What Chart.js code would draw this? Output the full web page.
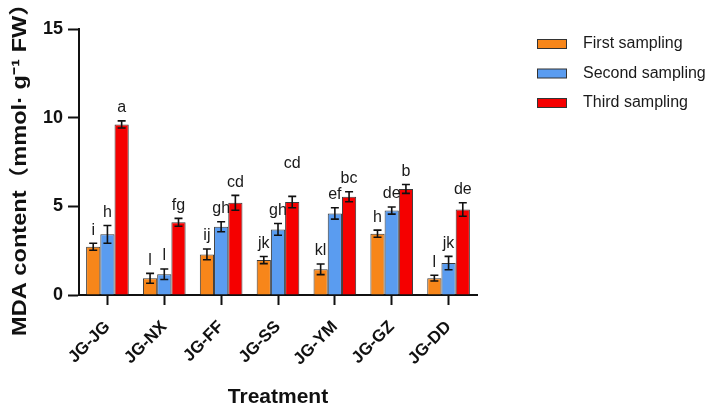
<!DOCTYPE html>
<html>
<head>
<meta charset="utf-8">
<script src="https://cdn.jsdelivr.net/npm/chart.js@4"></script>
<style>
  html, body { margin: 0; padding: 0; background: #fff; }
  #wrap { width: 709px; height: 406px; }
</style>
</head>
<body>
<div id="wrap"><canvas id="mdaChart" width="709" height="406"></canvas></div>
<script>
const treatments = ['JG-JG', 'JG-NX', 'JG-FF', 'JG-SS', 'JG-YM', 'JG-GZ', 'JG-DD'];
const seriesNames = ['First sampling', 'Second sampling', 'Third sampling'];

const firstMean = [2.72, 0.94, 2.29, 1.97, 1.45, 3.46, 0.95];
const firstErr = [0.2, 0.28, 0.3, 0.2, 0.3, 0.2, 0.16];
const firstLetters = ['i', 'l', 'ij', 'jk', 'kl', 'h', 'l'];

const secondMean = [3.42, 1.17, 3.85, 3.7, 4.6, 4.76, 1.8];
const secondErr = [0.5, 0.3, 0.28, 0.33, 0.32, 0.2, 0.38];
const secondLetters = ['h', 'l', 'gh', 'gh', 'ef', 'de', 'jk'];

const thirdMean = [9.62, 4.1, 5.2, 5.24, 5.54, 5.98, 4.82];
const thirdErr = [0.2, 0.22, 0.42, 0.32, 0.28, 0.25, 0.38];
const thirdLetters = ['a', 'fg', 'cd', 'cd', 'bc', 'b', 'de'];

const yTicks = [0, 5, 10, 15];
const yTitle = 'MDA content\uFF08mmol\u00B7 g\u207B\u00B9 FW\uFF09';

const colors = ['#f7861a', '#5a9cf0', '#f50000'];
const errors = [firstErr, secondErr, thirdErr];
const letters = [firstLetters, secondLetters, thirdLetters];
const FONT = "'Liberation Sans', Arial, 'Noto Sans CJK SC', sans-serif";

// error bars + significance letters
const errorBars = {
  id: 'errorBars',
  afterDatasetsDraw(chart) {
    const ctx = chart.ctx;
    const y = chart.scales.y;
    ctx.save();
    chart.data.datasets.forEach((ds, i) => {
      const meta = chart.getDatasetMeta(i);
      meta.data.forEach((bar, j) => {
        const v = ds.data[j], e = errors[i][j];
        const top = y.getPixelForValue(v + e);
        const bot = y.getPixelForValue(v - e);
        ctx.strokeStyle = '#111';
        ctx.lineWidth = 1.6;
        ctx.beginPath();
        ctx.moveTo(bar.x, top); ctx.lineTo(bar.x, bot);
        ctx.moveTo(bar.x - 4, top); ctx.lineTo(bar.x + 4, top);
        ctx.moveTo(bar.x - 4, bot); ctx.lineTo(bar.x + 4, bot);
        ctx.stroke();
        // SS third-sampling letter sits higher in the original
        const lift = (i === 2 && j === 3) ? 20 : 0;
        ctx.fillStyle = '#1a1a1a';
        ctx.font = '16px ' + FONT;
        ctx.textAlign = 'center';
        ctx.textBaseline = 'middle';
        ctx.fillText(letters[i][j], bar.x, top - 13 - lift);
      });
    });
    ctx.restore();
  }
};

// legend at the right + stretched y title
const extras = {
  id: 'extras',
  afterDraw(chart) {
    const ctx = chart.ctx;
    const x0 = chart.chartArea.right + 60;
    ctx.save();
    chart.data.datasets.forEach((ds, i) => {
      const cy = 44 + i * 29.5;
      ctx.fillStyle = ds.backgroundColor;
      ctx.fillRect(x0, cy - 4.5, 30, 9);
      ctx.strokeStyle = '#333';
      ctx.lineWidth = 1;
      ctx.strokeRect(x0 + 0.5, cy - 4.5, 29, 9);
      ctx.fillStyle = '#1a1a1a';
      ctx.font = '16px ' + FONT;
      ctx.textAlign = 'left';
      ctx.textBaseline = 'middle';
      ctx.fillText(ds.label, x0 + 46, cy);
    });
    ctx.translate(20, 164);
    ctx.rotate(-Math.PI / 2);
    ctx.scale(1.18, 1);
    ctx.fillStyle = '#111';
    ctx.font = 'bold 20px ' + FONT;
    ctx.textAlign = 'center';
    ctx.textBaseline = 'middle';
    ctx.fillText(yTitle, 0, 0);
    ctx.restore();
  }
};

const means = [firstMean, secondMean, thirdMean];

new Chart(document.getElementById('mdaChart').getContext('2d'), {
  type: 'bar',
  data: {
    labels: treatments,
    datasets: seriesNames.map((name, i) => ({
      label: name,
      data: means[i],
      backgroundColor: colors[i],
      borderColor: '#3a3a3a',
      borderWidth: 1,
      categoryPercentage: 0.75,
      barPercentage: 1
    }))
  },
  options: {
    responsive: false,
    animation: false,
    layout: { padding: { top: 29, right: 232, bottom: 0, left: 0 } },
    plugins: { legend: { display: false }, tooltip: { enabled: false } },
    scales: {
      x: {
        afterFit: s => { s.height = 111; },
        border: { color: '#111', width: 2 },
        grid: { display: true, drawOnChartArea: false, offset: false, tickLength: 10, tickWidth: 2, tickColor: '#111' },
        ticks: {
          color: '#111', minRotation: 45, maxRotation: 45, padding: 12,
          font: { family: FONT, size: 17, weight: 'bold' }
        },
        title: {
          display: true, text: 'Treatment', color: '#111',
          font: { family: FONT, size: 21, weight: 'bold' }, padding: { top: 0, bottom: -4 }
        }
      },
      y: {
        min: 0, max: 15,
        afterFit: s => { s.width = 79; },
        afterBuildTicks: s => { s.ticks = yTicks.map(v => ({ value: v })); },
        border: { color: '#111', width: 2 },
        grid: { display: true, drawOnChartArea: false, tickLength: 11, tickWidth: 2, tickColor: '#111' },
        ticks: { color: '#111', padding: 5, font: { family: FONT, size: 18, weight: 'bold' } }
      }
    }
  },
  plugins: [errorBars, extras]
});
</script>
</body>
</html>
